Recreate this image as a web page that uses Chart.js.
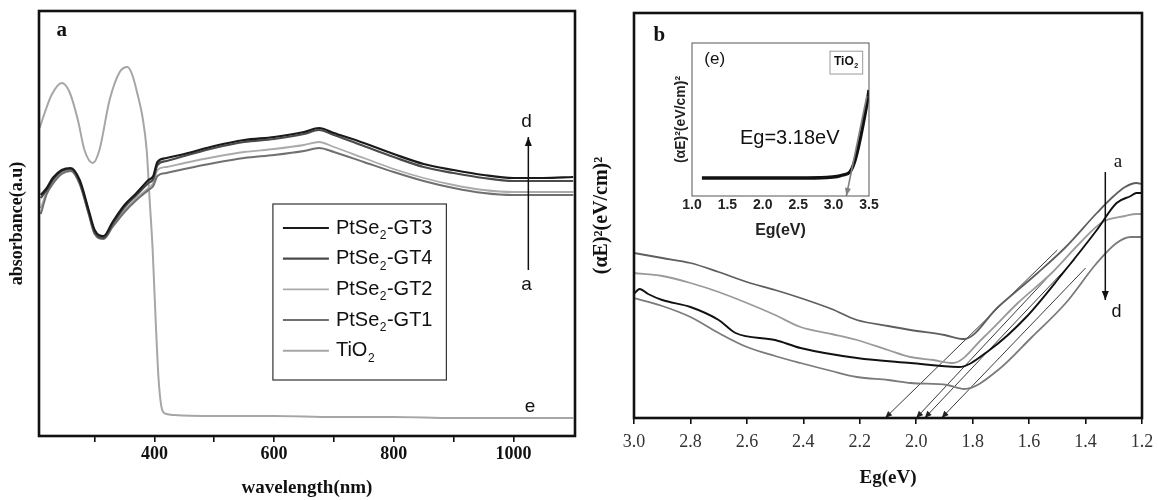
<!DOCTYPE html>
<html><head><meta charset="utf-8">
<script src="https://cdn.jsdelivr.net/npm/chart.js@4.4.1/dist/chart.umd.min.js"></script>
<style>
html,body{margin:0;padding:0;background:#fff;}
#wrap{position:relative;width:1158px;height:500px;overflow:hidden;background:#fff;}
canvas{position:absolute;}
</style></head><body>
<div id="wrap">
<canvas id="ca" width="580" height="500" style="left:0;top:0;width:580px;height:500px"></canvas>
<canvas id="cb" width="578" height="500" style="left:580px;top:0;width:578px;height:500px"></canvas>
<canvas id="ci" width="216" height="215" style="left:665px;top:30px;width:216px;height:215px"></canvas>
</div>
<script>
// ---------- Panel a : absorbance spectra ----------
const wavelengthNm = [210,220,230,245,260,275,290,300,315,330,350,370,390,398,405,420,450,500,550,600,650,675,700,750,800,850,900,950,1000,1050,1100];
const absGT3 = [241,248,258,266,268,256,226,206,200,214,231,243,256,260,274,278,282,290,296,299,304,308,303,293,282,272,266,261,258,258,259];
const absGT4 = [238,246,256,265,267,254,224,204,198,212,229,241,253,257,271,275,280,288,294,297,302,306,301,290,279,269,263,258,255,255,255];
const absGT2 = [228,244,254,263,266,253,223,203,198,210,226,238,248,253,266,269,273,279,284,287,291,294,289,278,267,258,251,246,244,244,244];
const absGT1 = [222,242,252,262,265,252,222,202,197,209,224,236,246,250,260,263,267,273,278,281,285,288,284,274,264,255,248,243,241,241,241];
const tio2Nm = [208,217,228,245,258,272,283,297,308,325,342,355,363,372,380,387,392,397,402,407,413,420,433,500,600,700,800,900,1000,1100];
const absTiO2 = [308,324,341,353,344,316,286,273,286,336,364,369,361,341,319,286,236,186,116,56,26,22,21,20,20,19,19,18,18,18];
const tickNmA = [300,400,500,600,700,800,900,1000];
const labelNmA = [400,600,800,1000];
const arrowANm = [1025,1025];
const arrowAVal = [166,299];

// ---------- Panel b : Tauc plots ----------
const egA = [3.00,2.90,2.80,2.70,2.60,2.50,2.41,2.30,2.21,2.10,2.02,1.90,1.83,1.71,1.57,1.47,1.36,1.30,1.26,1.22,1.20];
const tauA = [165,160,155,146,136,128,120,109,98,92,88,83,79,111,145,171,205,222,231,235,234];
const egB = [3.00,2.90,2.80,2.70,2.60,2.50,2.41,2.30,2.21,2.10,2.02,1.94,1.87,1.76,1.64,1.52,1.42,1.34,1.26,1.22,1.20];
const tauB = [145,142,135,126,115,103,91,84,78,68,61,58,55,81,115,145,175,196,202,204,204];
const egC = [3.00,2.98,2.95,2.90,2.80,2.70,2.64,2.50,2.41,2.21,2.02,1.85,1.74,1.61,1.48,1.36,1.29,1.24,1.22,1.20];
const tauC = [124,129,124,118,111,98,85,78,70,60,55,51,68,101,145,188,215,222,225,225];
const egD = [3.00,2.90,2.80,2.70,2.60,2.50,2.41,2.30,2.21,2.10,2.02,1.89,1.83,1.71,1.59,1.47,1.36,1.29,1.24,1.20];
const tauD = [120,112,101,85,71,62,55,47,41,38,35,33,29,48,81,115,155,175,181,181];
const tangentEg = [[2.11,1.50],[2.00,1.47],[1.97,1.44],[1.91,1.40]];
const tangentVal = [[0,168],[0,160],[0,158],[0,150]];
const tickEgB = [1.2,1.4,1.6,1.8,2.0,2.2,2.4,2.6,2.8,3.0];
const arrowBEg = [1.33,1.33];
const arrowBVal = [246,118];

// ---------- Inset (e) : TiO2 ----------
const insetEg = [1.14,1.5,2.0,2.5,2.9,3.05,3.13,3.23,3.29,3.35,3.42,3.49,3.5];
const insetVal = [18,18,18,18,18.5,19.5,21,24,33,49,73,101,106];
const insetGapEg = [3.47,3.18];
const insetGapVal = [100,0];
const tickEgInset = [1.0,1.5,2.0,2.5,3.0,3.5];

const SERIF = '"Liberation Serif","Times New Roman",serif';
const SANS = '"Liberation Sans",Arial,sans-serif';

function pts(xs, ys){ return xs.map((x,i)=>({x:x, y:ys[i]})); }

function drawRich(ctx, text, x, y, size, weight, family, align){
  const parts = text.split('\u2082');
  const sub = Math.round(size*0.62);
  const f1 = weight+' '+size+'px '+family, f2 = weight+' '+sub+'px '+family;
  let total = 0;
  parts.forEach((p,i)=>{ ctx.font=f1; total+=ctx.measureText(p).width; if(i<parts.length-1){ctx.font=f2; total+=ctx.measureText('2').width+1;} });
  let cx = align==='center' ? x-total/2 : (align==='right' ? x-total : x);
  ctx.textAlign='left'; ctx.textBaseline='middle';
  parts.forEach((p,i)=>{
    ctx.font=f1; ctx.fillText(p,cx,y); cx+=ctx.measureText(p).width;
    if(i<parts.length-1){ ctx.font=f2; ctx.fillText('2',cx+0.5,y+size*0.38); cx+=ctx.measureText('2').width+1; }
  });
  return {left: align==='center'? x-total/2 : x, width: total};
}

const extrasPlugin = {
  id:'extras',
  afterDatasetsDraw(chart){
    const ctx = chart.ctx;
    chart.data.datasets.forEach((ds,i)=>{
      if(!ds.arrowAt) return;
      const p = chart.getDatasetMeta(i).data;
      const tip = ds.arrowAt==='start' ? p[0] : p[p.length-1];
      const from = ds.arrowAt==='start' ? p[1] : p[p.length-2];
      const ang = Math.atan2(tip.y-from.y, tip.x-from.x);
      const L = ds.arrowLen||9, W = ds.arrowWidth||3.5;
      ctx.save(); ctx.fillStyle = ds.borderColor; ctx.beginPath();
      ctx.moveTo(tip.x,tip.y);
      ctx.lineTo(tip.x-L*Math.cos(ang)+W*Math.sin(ang), tip.y-L*Math.sin(ang)-W*Math.cos(ang));
      ctx.lineTo(tip.x-L*Math.cos(ang)-W*Math.sin(ang), tip.y-L*Math.sin(ang)+W*Math.cos(ang));
      ctx.closePath(); ctx.fill(); ctx.restore();
    });
  },
  afterDraw(chart, args, opts){
    const ctx = chart.ctx, a = chart.chartArea, xs = chart.scales.x, ys = chart.scales.y;
    ctx.save();
    ctx.strokeStyle = opts.frameColor||'#111'; ctx.lineWidth = opts.frameWidth||2.5;
    ctx.strokeRect(a.left, a.top, a.right-a.left, a.bottom-a.top);
    (opts.notes||[]).forEach(n=>{
      ctx.fillStyle = n.color||'#111';
      const px = xs.getPixelForValue(n.x), py = ys.getPixelForValue(n.y);
      const r = drawRich(ctx, n.text, px, py, n.size, n.weight||'normal', n.family, n.align||'center');
      if(n.box){
        ctx.strokeStyle = '#9a9a9a'; ctx.lineWidth = 1;
        ctx.strokeRect(r.left-4, py-n.size*0.9, r.width+8, n.size*1.9);
      }
    });
    const lg = opts.legendBox;
    if(lg){
      const x0 = xs.getPixelForValue(lg.x0), x1 = xs.getPixelForValue(lg.x1);
      const y0 = ys.getPixelForValue(lg.yTop), y1 = ys.getPixelForValue(lg.yBottom);
      ctx.strokeStyle = '#333'; ctx.lineWidth = 1.2;
      ctx.strokeRect(x0, y0, x1-x0, y1-y0);
      lg.items.forEach((di,k)=>{
        const ds = chart.data.datasets[di];
        const ry = y0 + lg.first + k*lg.step;
        ctx.strokeStyle = ds.borderColor; ctx.lineWidth = ds.borderWidth;
        ctx.beginPath(); ctx.moveTo(x0+10, ry); ctx.lineTo(x0+56, ry); ctx.stroke();
        ctx.fillStyle = '#111';
        drawRich(ctx, ds.label, x0+63, ry, lg.size, 'normal', SANS, 'left');
      });
    }
    ctx.restore();
  }
};

function line(label, xs, ys, color, width, order, extra){
  return Object.assign({label:label, data:pts(xs,ys), borderColor:color, backgroundColor:color, borderWidth:width,
    pointRadius:0, fill:false, cubicInterpolationMode:'monotone', order:order}, extra||{});
}

const common = {responsive:false, animation:false, devicePixelRatio:1, events:[]};

// ---- Chart a ----
new Chart(document.getElementById('ca'), {
  type:'line',
  data:{datasets:[
    line('PtSe\u2082-GT3', wavelengthNm, absGT3, '#1a1a1a', 2.2, 0),
    line('PtSe\u2082-GT4', wavelengthNm, absGT4, '#4a4a4a', 2.2, 1),
    line('PtSe\u2082-GT2', wavelengthNm, absGT2, '#ababab', 1.8, 3),
    line('PtSe\u2082-GT1', wavelengthNm, absGT1, '#707070', 2, 2),
    line('TiO\u2082', tio2Nm, absTiO2, '#a6a6a6', 2, 4),
    line('', arrowANm, arrowAVal, '#111', 1.5, 0, {arrowAt:'end', cubicInterpolationMode:'default'})
  ]},
  options:Object.assign({}, common, {
    layout:{padding:{left:0,right:5,top:11,bottom:0}},
    plugins:{legend:{display:false}, tooltip:{enabled:false},
      extras:{frameWidth:2.6,
        notes:[
          {x:245,y:405,text:'a',size:21,weight:'bold',family:SERIF},
          {x:1022,y:314,text:'d',size:19,family:SANS},
          {x:1022,y:151,text:'a',size:19,family:SANS},
          {x:1028,y:29,text:'e',size:19,family:SANS}
        ],
        legendBox:{x0:598,x1:888,yTop:232,yBottom:56,first:24,step:30.7,size:20,items:[0,1,2,3,4]}
      }},
    scales:{
      x:{type:'linear', min:207, max:1103,
        afterFit:s=>{s.height=64;},
        afterBuildTicks:s=>{s.ticks=tickNmA.map(v=>({value:v}));},
        ticks:{autoSkip:false, maxRotation:0, padding:2, color:'#111', font:{family:SERIF,size:18,weight:'bold'},
          callback:v=>labelNmA.includes(v)?String(v):''},
        grid:{display:true, drawOnChartArea:false, drawTicks:true, tickLength:6, color:'#111', lineWidth:1.6},
        border:{display:false},
        title:{display:true, text:'wavelength(nm)', color:'#111', font:{family:SERIF,size:19,weight:'bold'}, padding:{top:0,bottom:1}}},
      y:{type:'linear', min:0, max:425,
        afterFit:s=>{s.width=39;},
        ticks:{display:false}, grid:{display:false}, border:{display:false},
        title:{display:true, text:'absorbance(a.u)', color:'#111', font:{family:SERIF,size:18,weight:'bold'}, padding:{top:7,bottom:0}}}
    }
  }),
  plugins:[extrasPlugin]
});

// ---- Chart b ----
const tangentSets = tangentEg.map((xs,i)=>line('', xs, tangentVal[i], '#222', 0.9, 5, {arrowAt:'start', arrowLen:7, arrowWidth:3, cubicInterpolationMode:'default'}));
new Chart(document.getElementById('cb'), {
  type:'line',
  data:{datasets:[
    line('a', egA, tauA, '#5e5e5e', 1.8, 3),
    line('b', egB, tauB, '#9a9a9a', 1.8, 2),
    line('c', egC, tauC, '#111111', 1.9, 0),
    line('d', egD, tauD, '#7a7a7a', 1.8, 1),
    ...tangentSets,
    line('', arrowBEg, arrowBVal, '#111', 1.5, 0, {arrowAt:'end', cubicInterpolationMode:'default'})
  ]},
  options:Object.assign({}, common, {
    layout:{padding:{left:0,right:16,top:13,bottom:0}},
    plugins:{legend:{display:false}, tooltip:{enabled:false},
      extras:{frameWidth:2.6,
        notes:[
          {x:2.91,y:382,text:'b',size:21,weight:'bold',family:SERIF},
          {x:1.285,y:256,text:'a',size:19,family:SERIF},
          {x:1.29,y:106,text:'d',size:18,family:SANS}
        ]}},
    scales:{
      x:{type:'linear', min:1.2, max:3.0, reverse:true,
        afterFit:s=>{s.height=82;},
        afterBuildTicks:s=>{s.ticks=tickEgB.map(v=>({value:v}));},
        ticks:{autoSkip:false, maxRotation:0, padding:7, color:'#333', font:{family:SERIF,size:18}, callback:v=>Number(v).toFixed(1)},
        grid:{display:true, drawOnChartArea:false, drawTicks:true, tickLength:6, color:'#111', lineWidth:1.6},
        border:{display:false},
        title:{display:true, text:'Eg(eV)', color:'#111', font:{family:SERIF,size:19,weight:'bold'}, padding:{top:0,bottom:11}}},
      y:{type:'linear', min:0, max:405,
        afterFit:s=>{s.width=54;},
        ticks:{display:false}, grid:{display:false}, border:{display:false},
        title:{display:true, text:'(\u03B1E)\u00B2(eV/cm)\u00B2', color:'#111', font:{family:SERIF,size:20,weight:'bold'}, padding:{top:10,bottom:0}}}
    }
  }),
  plugins:[extrasPlugin]
});

// ---- Inset ----
new Chart(document.getElementById('ci'), {
  type:'line',
  data:{datasets:[
    line('TiO\u2082', insetEg, insetVal, '#111', 3.4, 1),
    line('', insetGapEg, insetGapVal, '#808080', 1.6, 0, {arrowAt:'end', arrowLen:8, arrowWidth:3, cubicInterpolationMode:'default'})
  ]},
  options:Object.assign({}, common, {
    layout:{padding:{left:0,right:12,top:13,bottom:0}},
    plugins:{legend:{display:false}, tooltip:{enabled:false},
      extras:{frameWidth:1, frameColor:'#555',
        notes:[
          {x:1.32,y:137,text:'(e)',size:17,family:SANS},
          {x:2.38,y:58,text:'Eg=3.18eV',size:20,family:SANS},
          {x:3.18,y:134,text:'TiO\u2082',size:12,weight:'bold',family:SANS,box:true}
        ]}},
    scales:{
      x:{type:'linear', min:1.0, max:3.5,
        afterFit:s=>{s.height=49;},
        afterBuildTicks:s=>{s.ticks=tickEgInset.map(v=>({value:v}));},
        ticks:{autoSkip:false, maxRotation:0, padding:1, color:'#222', font:{family:SANS,size:14,weight:'bold'}, callback:v=>Number(v).toFixed(1)},
        grid:{display:true, drawOnChartArea:false, drawTicks:false, color:'#555', lineWidth:1},
        border:{display:false},
        title:{display:true, text:'Eg(eV)', color:'#222', font:{family:SANS,size:16,weight:'bold'}, padding:{top:0,bottom:5}}},
      y:{type:'linear', min:0, max:153,
        afterFit:s=>{s.width=27;},
        ticks:{display:false}, grid:{display:false}, border:{display:false},
        title:{display:true, text:'(\u03B1E)\u00B2(eV/cm)\u00B2', color:'#222', font:{family:SANS,size:14,weight:'bold'}, padding:{top:8,bottom:0}}}
    }
  }),
  plugins:[extrasPlugin]
});
</script>
</body></html>
